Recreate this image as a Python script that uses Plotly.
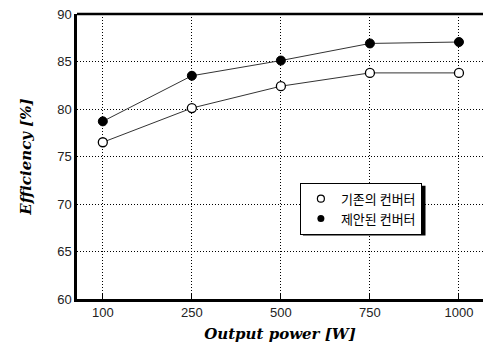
import plotly.graph_objects as go

categories = ["100", "250", "500", "750", "1000"]
conventional = [76.5, 80.1, 82.4, 83.8, 83.8]
proposed = [78.7, 83.5, 85.1, 86.9, 87.05]
series_names = ["기존의 컨버터", "제안된 컨버터"]
y_ticks = [60, 65, 70, 75, 80, 85, 90]

xpos = list(range(len(categories)))

fig = go.Figure()
fig.add_trace(go.Scatter(
    x=xpos, y=conventional, mode="lines+markers", showlegend=False,
    line=dict(color="#333333", width=1),
    marker=dict(symbol="circle", size=9, color="white", line=dict(color="black", width=1.3)),
))
fig.add_trace(go.Scatter(
    x=xpos, y=proposed, mode="lines+markers", showlegend=False,
    line=dict(color="#333333", width=1),
    marker=dict(symbol="circle", size=9, color="black", line=dict(color="black", width=1)),
))
# legend entries (marker only)
fig.add_trace(go.Scatter(
    x=[None], y=[None], mode="markers", name=series_names[0],
    marker=dict(symbol="circle", size=7, color="white", line=dict(color="black", width=1.2)),
))
fig.add_trace(go.Scatter(
    x=[None], y=[None], mode="markers", name=series_names[1],
    marker=dict(symbol="circle", size=7, color="black"),
))

tick_font = dict(family="Liberation Sans, DejaVu Sans, sans-serif", size=13, color="#222222")
title_font = dict(family="DejaVu Serif, Liberation Serif, serif", size=15, color="black")

W, H = 483, 347
ml, mr, mt, mb = 77, 0, 14, 48
pw, ph = W - ml - mr, H - mt - mb
leg_x, leg_y = 0.549, 0.408
leg_right_px, leg_bottom_px = 423, 233  # approximate rendered legend box edges

fig.update_layout(
    width=W, height=H,
    margin=dict(l=ml, r=mr, t=mt, b=mb),
    paper_bgcolor="white", plot_bgcolor="white",
    xaxis=dict(
        range=[-0.29, 4.27], tickvals=xpos, ticktext=categories,
        showgrid=True, gridcolor="black", griddash="1px,2px", gridwidth=1,
        showline=True, linecolor="black", linewidth=2.5,
        ticks="inside", ticklen=6, tickcolor="black", tickwidth=1,
        tickfont=tick_font, zeroline=False,
        title=dict(text="<b><i>Output power [W]</i></b>", font=title_font, standoff=10),
    ),
    yaxis=dict(
        range=[60, 90], tickvals=y_ticks,
        showgrid=True, gridcolor="black", griddash="1px,2px", gridwidth=1,
        showline=True, linecolor="black", linewidth=2.5,
        ticks="", tickfont=tick_font, zeroline=False,
        title=dict(text="<b><i>Efficiency [%]</i></b>", font=title_font, standoff=22),
    ),
    legend=dict(
        x=leg_x, y=leg_y, xanchor="left", yanchor="top",
        bgcolor="white", bordercolor="black", borderwidth=1,
        font=dict(family="Noto Sans CJK KR, sans-serif", size=13, color="black"),
        itemwidth=30, tracegroupgap=0,
    ),
    shapes=[
        dict(type="line", xref="paper", yref="paper", x0=0, x1=1, y0=1, y1=1,
             line=dict(color="black", width=2.5)),
        # legend drop shadow
        dict(type="rect", xref="paper", yref="paper", layer="above",
             x0=leg_x + 3 / pw, x1=(leg_right_px - ml + 2.5) / pw,
             y0=(H - mb - leg_bottom_px - 2.5) / ph, y1=leg_y - 3 / ph,
             fillcolor="black", line=dict(width=0)),
    ],
)

fig.write_html("out.html")
